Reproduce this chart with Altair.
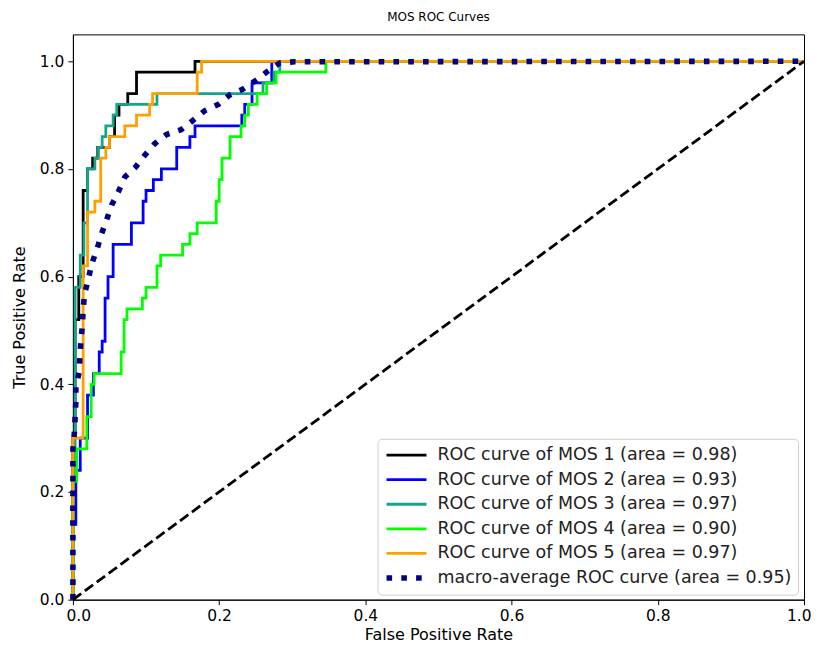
import altair as alt
import pandas as pd

# ---------------- data ----------------
names = [
    "ROC curve of MOS 1 (area = 0.98)",
    "ROC curve of MOS 2 (area = 0.93)",
    "ROC curve of MOS 3 (area = 0.97)",
    "ROC curve of MOS 4 (area = 0.90)",
    "ROC curve of MOS 5 (area = 0.97)",
    "macro-average ROC curve (area = 0.95)",
]
colors = ["#000000", "#0000ff", "#17a589", "#00ff00", "#ffa000", "#000080"]

fpr1 = [0, 0, 0.003, 0.003, 0.008, 0.008, 0.014, 0.014, 0.02, 0.02, 0.027, 0.027, 0.034, 0.034, 0.05, 0.05,
        0.057, 0.057, 0.063, 0.063, 0.075, 0.075, 0.087, 0.087, 0.167, 0.167, 1.0]
tpr1 = [0, 0.30, 0.30, 0.52, 0.52, 0.60, 0.60, 0.76, 0.76, 0.80, 0.80, 0.82, 0.82, 0.84, 0.84, 0.86,
        0.86, 0.90, 0.90, 0.92, 0.92, 0.94, 0.94, 0.98, 0.98, 1.0, 1.0]

fpr2 = [0, 0, 0.004, 0.004, 0.010, 0.010, 0.020, 0.020, 0.028, 0.028, 0.036, 0.036, 0.040, 0.040, 0.044, 0.044,
        0.048, 0.048, 0.055, 0.055, 0.080, 0.080, 0.096, 0.096, 0.100, 0.100, 0.110, 0.110, 0.121, 0.121,
        0.142, 0.142, 0.160, 0.160, 0.167, 0.167, 0.231, 0.231, 0.235, 0.235, 0.245, 0.245, 0.272, 0.272, 1.0]
tpr2 = [0, 0.14, 0.14, 0.24, 0.24, 0.30, 0.30, 0.38, 0.38, 0.42, 0.42, 0.46, 0.46, 0.48, 0.48, 0.56,
        0.56, 0.60, 0.60, 0.66, 0.66, 0.70, 0.70, 0.74, 0.74, 0.76, 0.76, 0.78, 0.78, 0.80,
        0.80, 0.84, 0.84, 0.86, 0.86, 0.88, 0.88, 0.90, 0.90, 0.92, 0.92, 0.96, 0.96, 1.0, 1.0]

fpr3 = [0, 0, 0.003, 0.003, 0.010, 0.010, 0.015, 0.015, 0.020, 0.020, 0.030, 0.030, 0.035, 0.035, 0.040, 0.040,
        0.045, 0.045, 0.055, 0.055, 0.060, 0.060, 0.115, 0.115, 0.260, 0.260, 0.275, 0.275, 0.283, 0.283, 1.0]
tpr3 = [0, 0.22, 0.22, 0.58, 0.58, 0.64, 0.64, 0.70, 0.70, 0.80, 0.80, 0.82, 0.82, 0.84, 0.84, 0.86,
        0.86, 0.88, 0.88, 0.90, 0.90, 0.92, 0.92, 0.94, 0.94, 0.96, 0.96, 0.98, 0.98, 1.0, 1.0]

fpr4 = [0, 0, 0.005, 0.005, 0.019, 0.019, 0.025, 0.025, 0.029, 0.029, 0.066, 0.066, 0.070, 0.070, 0.074, 0.074,
        0.095, 0.095, 0.100, 0.100, 0.115, 0.115, 0.120, 0.120, 0.150, 0.150, 0.160, 0.160, 0.170, 0.170,
        0.196, 0.196, 0.200, 0.200, 0.204, 0.204, 0.215, 0.215, 0.230, 0.230, 0.235, 0.235, 0.240, 0.240,
        0.252, 0.252, 0.265, 0.265, 0.278, 0.278, 0.346, 0.346, 1.0]
tpr4 = [0, 0.22, 0.22, 0.28, 0.28, 0.34, 0.34, 0.40, 0.40, 0.42, 0.42, 0.46, 0.46, 0.52, 0.52, 0.54,
        0.54, 0.56, 0.56, 0.58, 0.58, 0.62, 0.62, 0.64, 0.64, 0.66, 0.66, 0.68, 0.68, 0.70,
        0.70, 0.74, 0.74, 0.78, 0.78, 0.82, 0.82, 0.86, 0.86, 0.88, 0.88, 0.90, 0.90, 0.92,
        0.92, 0.94, 0.94, 0.96, 0.96, 0.98, 0.98, 1.0, 1.0]

fpr5 = [0, 0, 0.014, 0.014, 0.020, 0.020, 0.030, 0.030, 0.038, 0.038, 0.045, 0.045, 0.050, 0.050,
        0.071, 0.071, 0.087, 0.087, 0.105, 0.105, 0.109, 0.109, 0.170, 0.170, 0.176, 0.176, 1.0]
tpr5 = [0, 0.30, 0.30, 0.62, 0.62, 0.72, 0.72, 0.74, 0.74, 0.82, 0.82, 0.84, 0.84, 0.86,
        0.86, 0.88, 0.88, 0.90, 0.90, 0.92, 0.92, 0.94, 0.94, 0.98, 0.98, 1.0, 1.0]

fpr_macro = [0, 0, 0.002, 0.004, 0.004, 0.0086, 0.0096, 0.011, 0.013, 0.014, 0.016, 0.021, 0.026, 0.033, 0.039,
             0.046, 0.053, 0.062, 0.071, 0.086, 0.098, 0.112, 0.128, 0.148, 0.164, 0.180, 0.199, 0.214,
             0.232, 0.250, 0.265, 0.283, 0.303, 1.0]
tpr_macro = [0, 0.28, 0.31, 0.367, 0.395, 0.423, 0.453, 0.482, 0.51, 0.54, 0.568, 0.595, 0.625, 0.651, 0.679,
             0.705, 0.733, 0.757, 0.785, 0.804, 0.825, 0.847, 0.864, 0.873, 0.89, 0.908, 0.92, 0.937,
             0.948, 0.964, 0.98, 0.997, 0.999, 1.0]

diag_x = [0.0, 1.0]
diag_y = [0.0, 1.0]

x_ticks = [0.0, 0.2, 0.4, 0.6, 0.8, 1.0]
y_ticks = [0.0, 0.2, 0.4, 0.6, 0.8, 1.0]

# ---------------- tables ----------------
def build(series_list):
    rows = []
    for name, fx, ty in series_list:
        for i, (a, b) in enumerate(zip(fx, ty)):
            rows.append({"series": name, "fpr": a, "tpr": b, "idx": i})
    return pd.DataFrame(rows)

df_classes = build([
    (names[0], fpr1, tpr1),
    (names[1], fpr2, tpr2),
    (names[2], fpr3, tpr3),
    (names[3], fpr4, tpr4),
    (names[4], fpr5, tpr5),
])
df_macro = build([(names[5], fpr_macro, tpr_macro)])
df_diag = pd.DataFrame({"fpr": diag_x, "tpr": diag_y})

FONT = "DejaVu Sans"

x_enc = alt.X("fpr:Q", scale=alt.Scale(domain=[0, 1], nice=False, zero=False),
              axis=alt.Axis(values=x_ticks, format=".1f", title="False Positive Rate",
                            labelFlush=True, labelFlushOffset=7))
y_enc = alt.Y("tpr:Q", scale=alt.Scale(domain=[0, 1.05], nice=False, zero=False),
              axis=alt.Axis(values=y_ticks, format=".1f", title="True Positive Rate",
                            labelFlush=False))

color_enc = alt.Color("series:N", scale=alt.Scale(domain=names, range=colors),
                      legend=alt.Legend(title=None))
dash_enc = alt.StrokeDash("series:N", scale=alt.Scale(domain=names,
                          range=[[1, 0]] * 5 + [[5.6, 9.2]]), legend=alt.Legend(title=None))
width_enc = alt.StrokeWidth("series:N", scale=alt.Scale(type="ordinal", domain=names,
                            range=[2.8] * 5 + [5.6]), legend=alt.Legend(title=None))

classes = alt.Chart(df_classes).mark_line(strokeCap="butt", interpolate="linear").encode(
    x=x_enc, y=y_enc, color=color_enc, strokeDash=dash_enc, strokeWidth=width_enc,
    order=alt.Order("idx:Q"), detail="series:N")

macro = alt.Chart(df_macro).mark_line(strokeCap="butt").encode(
    x=x_enc, y=y_enc, color=color_enc, strokeDash=dash_enc, strokeWidth=width_enc,
    order=alt.Order("idx:Q"))

diag = alt.Chart(df_diag).mark_line(color="black", strokeDash=[10.3, 4.5], strokeWidth=2.8,
                                    strokeCap="butt").encode(
    x=alt.X("fpr:Q"), y=alt.Y("tpr:Q"))

chart = alt.layer(classes, macro, diag).properties(
    width=732, height=566,
    title=alt.TitleParams("MOS ROC Curves", fontSize=12, font=FONT, fontWeight="normal",
                          color="black", offset=10),
    padding={"left": 65, "top": 26, "right": 8, "bottom": 43},
    autosize=alt.AutoSizeParams(type="none"),
).configure_view(
    stroke="black", strokeWidth=1
).configure_axis(
    grid=False, domainColor="black", tickColor="black", tickSize=5, labelColor="black",
    labelFont=FONT, labelFontSize=15.5, titleFont=FONT, titleFontSize=16,
    titleFontWeight="normal", titleColor="black", labelPadding=4
).configure_axisY(
    titlePadding=12
).configure_axisX(
    titlePadding=2
).configure_legend(
    orient="none", legendX=305, legendY=405,
    strokeColor="#d0d0d0", fillColor="rgba(255,255,255,0.85)", cornerRadius=4, padding=6,
    labelFont=FONT, labelFontSize=17.5, labelColor="#222222", symbolType="stroke",
    symbolSize=1600, clipHeight=20.5, rowPadding=3.6, labelOffset=8, labelLimit=0
)

chart.save("out.html", embed_options={"renderer": "svg", "actions": False})
